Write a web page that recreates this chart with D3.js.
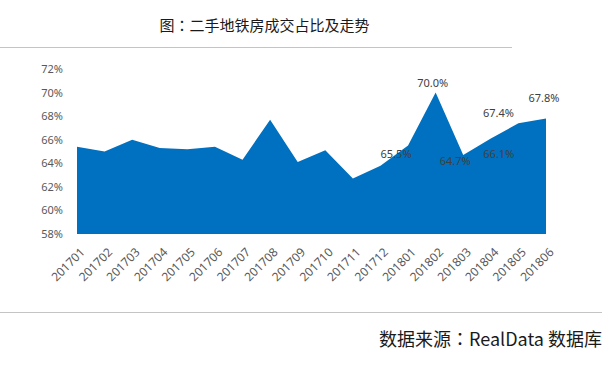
<!DOCTYPE html>
<html><head><meta charset="utf-8">
<script src="https://cdn.jsdelivr.net/npm/d3@7"></script>
<style>body{margin:0;background:#fff}svg{display:block}</style>
</head><body>
<svg id="c" width="616" height="367"></svg>
<script>
const categories = ["201701","201702","201703","201704","201705","201706","201707","201708","201709","201710","201711","201712","201801","201802","201803","201804","201805","201806"];
const values = [65.4,65.0,66.0,65.3,65.2,65.4,64.3,67.7,64.1,65.1,62.7,63.8,65.5,70.0,64.7,66.1,67.4,67.8];
const yTicks = [58,60,62,64,66,68,70,72];
const labeled = ["201801","201802","201803","201804","201805","201806"];
// label offsets relative to point (dx, dy of text center)
const labelOffsets = [[-12,9],[-3,-9],[-8,6],[8,16],[-20,-10],[-2,-20]];
const titleParts = ["图", "：", "二手地铁房成交占比及走势"];
const sourceParts = ["数据来源", "：", "RealData 数据库"];

const svg = d3.select("#c");
const x = d3.scalePoint().domain(categories).range([77,546]);
const y = d3.scaleLinear().domain([58,72]).range([234,69]);

function multi(parts, sel) {
  parts.forEach((p,i)=>{
    sel.append("tspan").attr("font-family", i===1 ? "'Noto Sans CJK TC'" : "'Noto Sans CJK SC'").text(p);
  });
}
const t = svg.append("text").attr("x",264.5).attr("y",30.5).attr("text-anchor","middle")
  .attr("font-size",15).attr("fill","#1a1a1a");
multi(titleParts, t);
svg.append("line").attr("x1",0).attr("x2",512).attr("y1",47.5).attr("y2",47.5).attr("stroke","#c4c4c4").attr("stroke-width",1);
svg.append("line").attr("x1",0).attr("x2",602).attr("y1",312.5).attr("y2",312.5).attr("stroke","#c4c4c4").attr("stroke-width",1);
const s = svg.append("text").attr("x",602).attr("y",345.5).attr("text-anchor","end")
  .attr("font-size",18).attr("fill","#1a1a1a");
multi(sourceParts, s);

const area = d3.area().x((d,i)=>x(categories[i])).y0(y(58)).y1(d=>y(d));
svg.append("path").datum(values).attr("d",area).attr("fill","#0070c0");

const yAxis = svg.append("g").attr("transform","translate(67,0)")
  .call(d3.axisLeft(y).tickValues(yTicks).tickFormat(d=>d+"%").tickSize(0).tickPadding(4));
yAxis.select(".domain").remove();
yAxis.selectAll("text").attr("font-family","'Noto Sans'").attr("font-size",11).attr("fill","#595959");

const xAxis = svg.append("g").attr("transform","translate(0,236)")
  .call(d3.axisBottom(x).tickSize(0).tickPadding(0));
xAxis.select(".domain").remove();
xAxis.selectAll("text").attr("font-family","'Noto Sans'").attr("font-size",12).attr("fill","#595959")
  .attr("text-anchor","end").attr("dy",0).attr("transform","translate(8,17) rotate(-45)");

labeled.forEach((c,k)=>{
  const i = categories.indexOf(c);
  svg.append("text").attr("x",x(c)+labelOffsets[k][0]).attr("y",y(values[i])+labelOffsets[k][1])
    .attr("dy","0.35em").attr("text-anchor","middle")
    .attr("font-family","'Noto Sans'").attr("font-size",11).attr("fill","#404040")
    .text(values[i].toFixed(1)+"%");
});
</script>
</body></html>
